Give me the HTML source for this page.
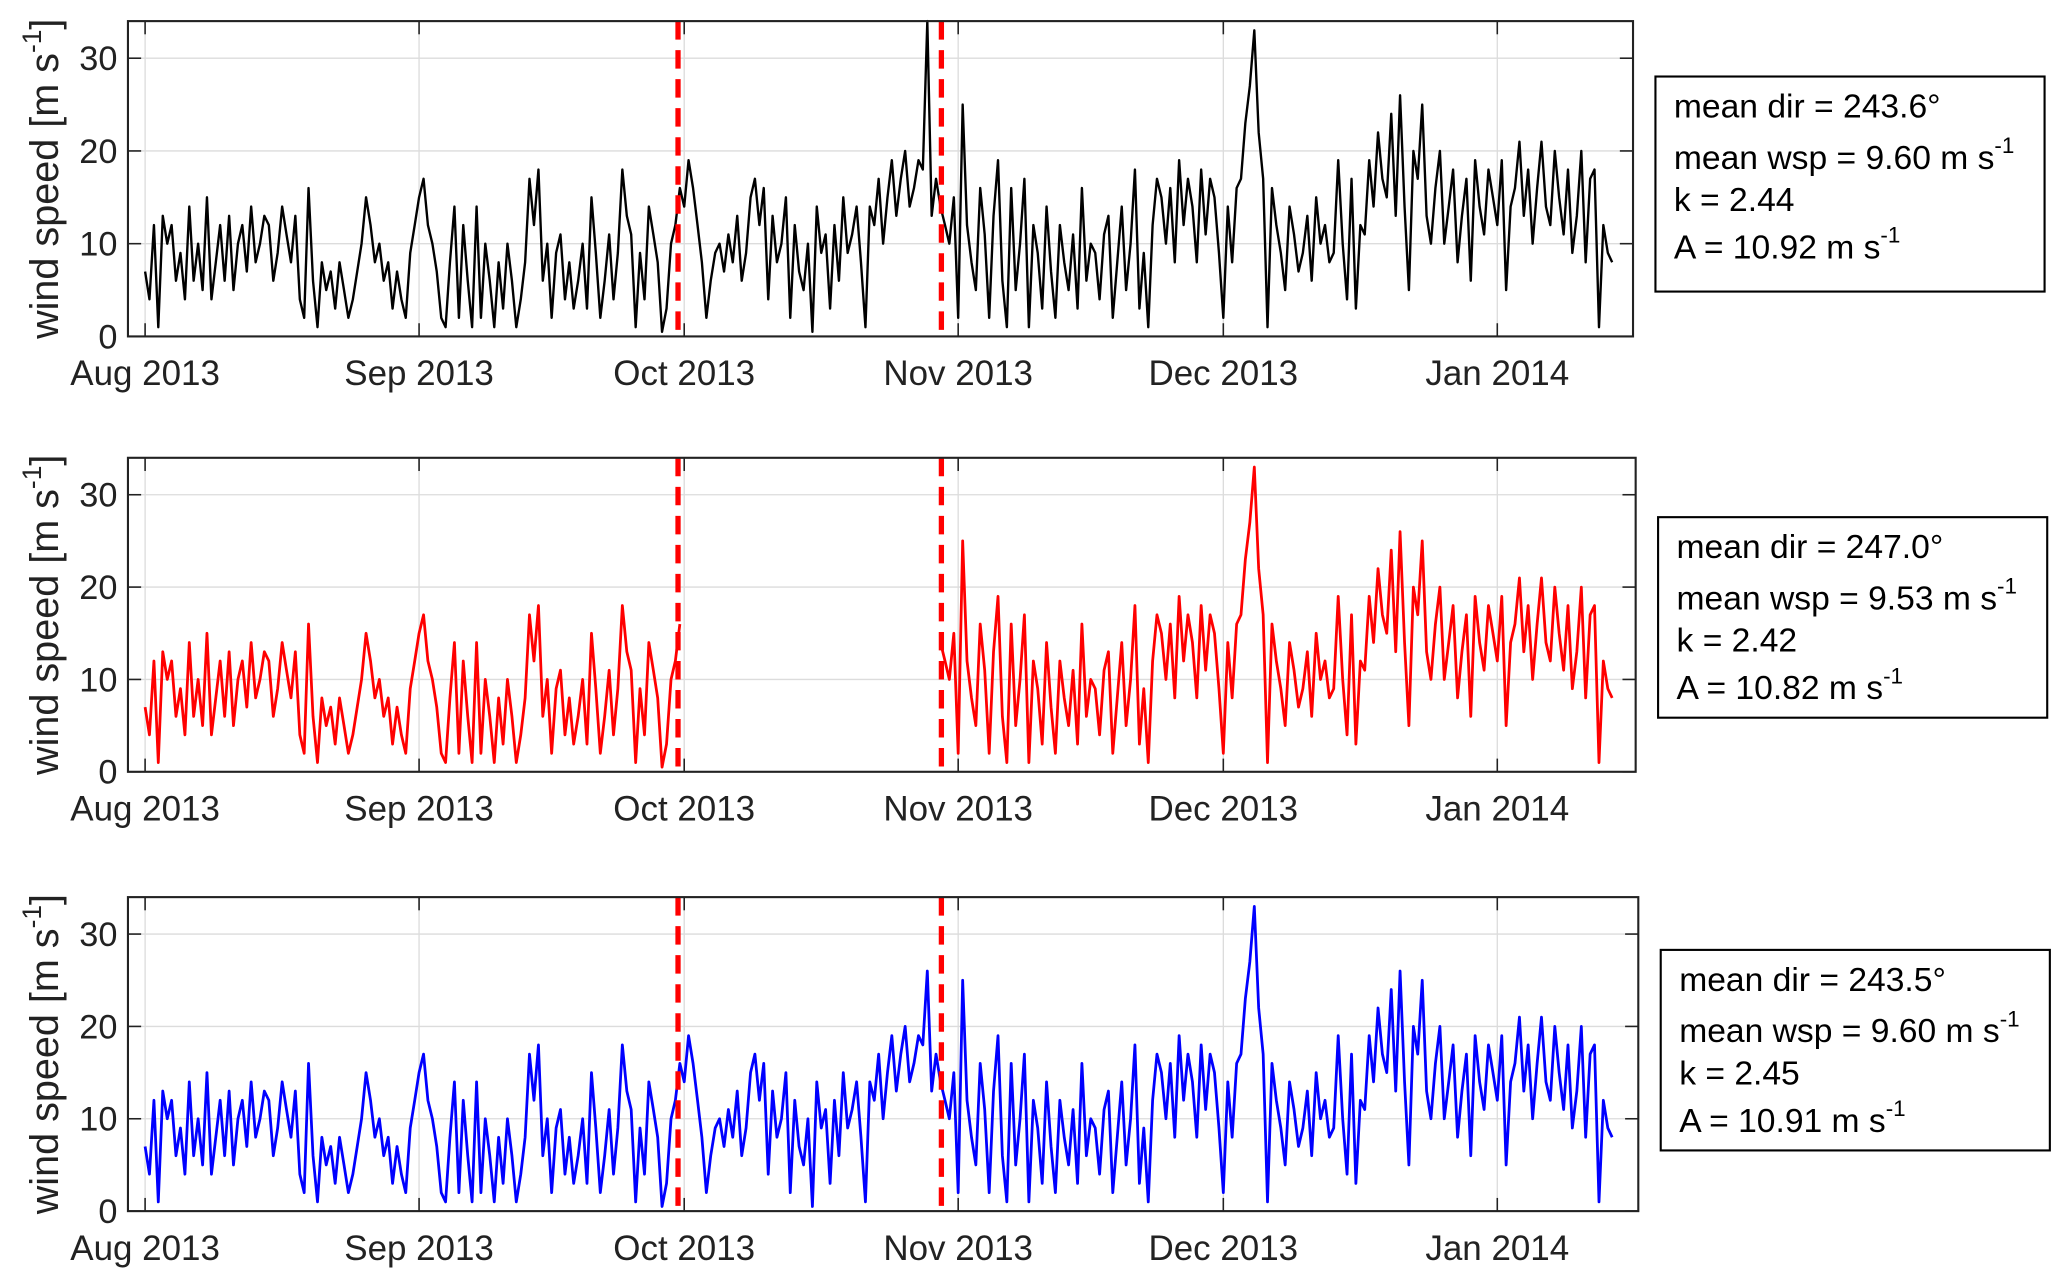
<!DOCTYPE html>
<html><head><meta charset="utf-8"><style>
html,body{margin:0;padding:0;background:#fff;}
svg{display:block;font-family:"Liberation Sans",Arial,sans-serif;}
</style></head><body>
<svg id="fig" width="2067" height="1285" viewBox="0 0 1567 974" preserveAspectRatio="none" xmlns="http://www.w3.org/2000/svg"></svg>
<script>
// Data: two samples per day starting 2013-08-01
const wspBlack = [
7,4, 12,1, 13,10, 12,6, 9,4, 14,6, 10,5, 15,4, 8,12, 6,13, 5,10, 12,7, 14,8, 10,13, 12,6, 9,14, 11,8, 13,4, 2,16, 6,1, 8,5, 7,3, 8,5, 2,4, 7,10, 15,12, 8,10, 6,8, 3,7, 4,2, 9,12,
15,17, 12,10, 7,2, 1,8, 14,2, 12,6, 1,14, 2,10, 6,1, 8,3, 10,6, 1,4, 8,17, 12,18, 6,10, 2,9, 11,4, 8,3, 6,10, 3,15, 9,2, 6,11, 4,9, 18,13, 11,1, 9,4, 14,11, 8,0.5, 3,10, 12,16,
14,19, 16,12, 8,2, 6,9, 10,7, 11,8, 13,6, 9,15, 17,12, 16,4, 13,8, 10,15, 2,12, 7,5, 10,0.5, 14,9, 11,3, 12,6, 15,9, 11,14, 8,1, 14,12, 17,10, 15,19, 13,17, 20,14, 16,19, 18,34, 13,17, 14,12, 10,15,
2,25, 12,8, 5,16, 11,2, 13,19, 6,1, 16,5, 10,17, 1,12, 9,3, 14,7, 2,12, 8,5, 11,3, 16,6, 10,9, 4,11, 13,2, 8,14, 5,10, 18,3, 9,1, 12,17, 15,10, 16,8, 19,12, 17,14, 8,18, 11,17, 15,9,
2,14, 8,16, 17,23, 27,33, 22,17, 1,16, 12,9, 5,14, 11,7, 9,13, 6,15, 10,12, 8,9, 19,10, 4,17, 3,12, 11,19, 14,22, 17,15, 24,13, 26,14, 5,20, 17,25, 13,10, 16,20, 10,14, 18,8, 13,17, 6,19, 14,11, 18,15,
12,19, 5,14, 16,21, 13,18, 10,16, 21,14, 12,20, 15,11, 18,9, 13,20, 8,17, 18,1, 12,9, 8
];
const gapStartDay = 61;
const gapEndDay = 90;
const blueSpikeDay = 88;
const blueSpikeValue = 26;
const yTicks = [0, 10, 20, 30];
const monthLabels = ['Aug 2013', 'Sep 2013', 'Oct 2013', 'Nov 2013', 'Dec 2013', 'Jan 2014'];
const monthDays = [0, 31, 61, 92, 122, 153];
const eventDays = [60.3, 90.1];
const stats = [
  ['243.6', '9.60', '2.44', '10.92'],
  ['247.0', '9.53', '2.42', '10.82'],
  ['243.5', '9.60', '2.45', '10.91']
];

const NS = 'http://www.w3.org/2000/svg';
const svg = document.getElementById('fig');
function mk(tag, attrs, parent){
  const e = document.createElementNS(NS, tag);
  for (const k in attrs) e.setAttribute(k, attrs[k]);
  (parent || svg).appendChild(e);
  return e;
}
const panels = [
  {top:16, bottom:255, left:97, right:1238, color:'#000', box:[1255,58,295,163], name:'top'},
  {top:347, bottom:585, left:97, right:1240, color:'#ff0000', box:[1257,392,295,152], name:'middle'},
  {top:680, bottom:918, left:97, right:1242, color:'#0000ff', box:[1259,720,295,152], name:'bottom'}
];
const redSeries = wspBlack.map((v,i)=> (i/2 >= gapStartDay && i/2 < gapEndDay) ? null : v);
const blueSeries = wspBlack.map((v,i)=> (Math.floor(i/2) === blueSpikeDay && i%2===1) ? blueSpikeValue : v);
const seriesList = [wspBlack, redSeries, blueSeries];

panels.forEach((p, pi) => {
  const g = mk('g', {});
  
  
  const pxPerDay = 6.70;
  const x0 = 110;
  const xs = d => x0 + d * pxPerDay;
  const ys = v => p.bottom - v * (p.bottom - p.top) / 34;
  yTicks.forEach(t => {
    const l = mk('line', {x1:p.left, x2:p.right, y1:ys(t), y2:ys(t), stroke:'#dcdcdc', 'stroke-width':1}, g);
    
    
    const tk = mk('text', {x:p.left-8, y:ys(t)+9, 'text-anchor':'end', 'font-size':26, fill:'#222'}, g);
    tk.textContent = t;
    
    
    mk('line', {x1:p.left, x2:p.left+10, y1:ys(t), y2:ys(t), stroke:'#222', 'stroke-width':1.2}, g);
    mk('line', {x1:p.right-10, x2:p.right, y1:ys(t), y2:ys(t), stroke:'#222', 'stroke-width':1.2}, g);
  });
  monthDays.forEach((d, i) => {
    const x = xs(d);
    const l = mk('line', {x1:x, x2:x, y1:p.top, y2:p.bottom, stroke:'#dcdcdc', 'stroke-width':1}, g);
    
    
    mk('line', {x1:x, x2:x, y1:p.bottom-10, y2:p.bottom, stroke:'#222', 'stroke-width':1.2}, g);
    mk('line', {x1:x, x2:x, y1:p.top, y2:p.top+10, stroke:'#222', 'stroke-width':1.2}, g);
    const tk = mk('text', {x:x, y:p.bottom+37, 'text-anchor':'middle', 'font-size':26.5, fill:'#222'}, g);
    tk.textContent = monthLabels[i];
    
    
  });
  const data = seriesList[pi];
  let d = '', pen = false;
  data.forEach((v, i) => {
    if (v === null) { pen = false; return; }
    d += (pen ? 'L' : 'M') + xs(i/2).toFixed(1) + ' ' + ys(v).toFixed(1) + ' ';
    pen = true;
  });
  const path = mk('path', {d:d, fill:'none', stroke:p.color, 'stroke-width': pi===0 ? 1.8 : 2.1, 'stroke-linejoin':'round'}, g);
  
  
  eventDays.forEach(ed => {
    const l = mk('line', {x1:xs(ed), x2:xs(ed), y1:p.top, y2:p.bottom, stroke:'#ff0000', 'stroke-width':4, 'stroke-dasharray':'14 8'}, g);
    
    
  });
  const ax = mk('rect', {x:p.left, y:p.top, width:p.right-p.left, height:p.bottom-p.top, fill:'none', stroke:'#222', 'stroke-width':1.6}, g);
  
  
  const cy = (p.top + p.bottom)/2;
  const yl = mk('text', {x:0, y:0, transform:`translate(44 ${cy}) rotate(-90)`, 'text-anchor':'middle', 'font-size':30, fill:'#222'}, g);
  yl.innerHTML = 'wind speed [m s<tspan dy="-13" font-size="20">-1</tspan><tspan dy="13">]</tspan>';
  
  
  const [bx, by, bw, bh] = p.box;
  const lg = mk('g', {}, g);
  
  
  mk('rect', {x:bx, y:by, width:bw, height:bh, fill:'#fff', stroke:'#000', 'stroke-width':1.6}, lg);
  const s = stats[pi];
  const tx = bx + 14;
  const lines = [
    `mean dir = ${s[0]}°`,
    `mean wsp = ${s[1]} m s<tspan dy="-12" font-size="17">-1</tspan>`,
    `k = ${s[2]}`,
    `A = ${s[3]} m s<tspan dy="-12" font-size="17">-1</tspan>`
  ];
  const offs = [31, 70, 102, 138];
  lines.forEach((ln, li) => {
    const t = mk('text', {x:tx, y:by + offs[li], 'font-size':25.5, fill:'#000'}, lg);
    t.innerHTML = ln;
    
    
  });
});
</script>
</body></html>
